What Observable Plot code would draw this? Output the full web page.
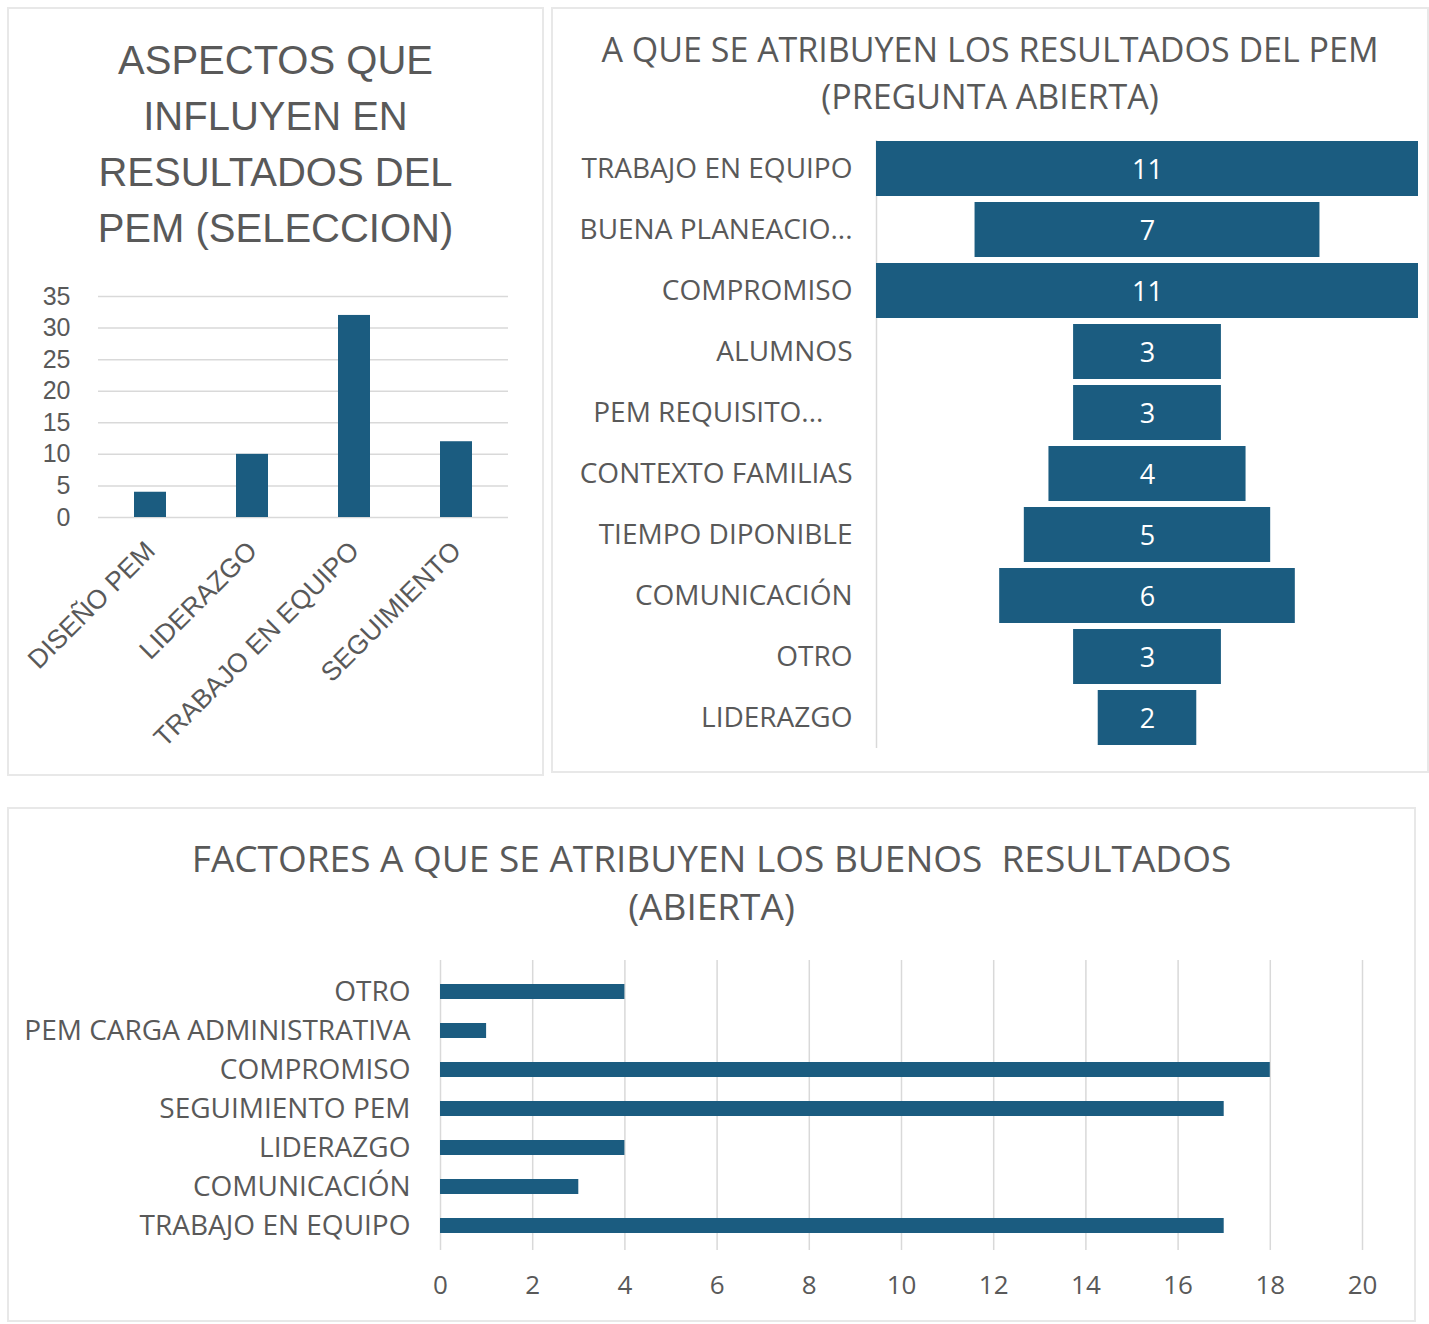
<!DOCTYPE html>
<html>
<head>
<meta charset="utf-8">
<script src="https://cdn.jsdelivr.net/npm/d3@7"></script>
<script src="https://cdn.jsdelivr.net/npm/@observablehq/plot@0.6"></script>
<style>
  body { margin: 0; background: #fff; }
  #root { position: relative; width: 1429px; height: 1324px; background: #fff; overflow: hidden; }
  .panel { position: absolute; border: 2px solid #e8e8e8; box-sizing: border-box; background: #fff; }
  .title { position: absolute; text-align: center; color: #595959; white-space: pre; }
  .chart { position: absolute; }
</style>
</head>
<body>
<div id="root">
  <div class="panel" style="left:7px;top:7px;width:537px;height:769px;"></div>
  <div class="panel" style="left:551px;top:7px;width:878px;height:766px;"></div>
  <div class="panel" style="left:7px;top:807px;width:1409px;height:515px;"></div>

  <div class="title" id="t1" style="left:8px;width:535px;top:32px;font-family:'Liberation Sans',Arial,sans-serif;font-size:40px;line-height:56px;"></div>
  <div class="title" id="t2" style="left:552px;width:876px;top:26px;font-family:'Open Sans',sans-serif;font-size:34px;line-height:47px;"></div>
  <div class="title" id="t3" style="left:8px;width:1407px;top:834px;font-family:'Open Sans',sans-serif;font-size:37px;line-height:48px;"></div>

  <div class="chart" id="c1" style="left:0px;top:270px;"></div>
  <div class="chart" id="c2" style="left:552px;top:130px;"></div>
  <div class="chart" id="c3" style="left:0px;top:950px;"></div>
</div>
<script>
// ---------- data ----------
const title1 = ["ASPECTOS QUE", "INFLUYEN EN", "RESULTADOS DEL", "PEM (SELECCION)"];
const aspectCategories = ["DISEÑO PEM", "LIDERAZGO", "TRABAJO EN EQUIPO", "SEGUIMIENTO"];
const aspectValues = [4, 10, 32, 12];
const aspectTicks = [0, 5, 10, 15, 20, 25, 30, 35];

const title2 = ["A QUE SE ATRIBUYEN LOS RESULTADOS DEL PEM", "(PREGUNTA ABIERTA)"];
const funnelCategories = ["TRABAJO EN EQUIPO", "BUENA PLANEACIO...", "COMPROMISO", "ALUMNOS", "PEM REQUISITO...\u00a0\u00a0\u00a0\u00a0", "CONTEXTO FAMILIAS", "TIEMPO DIPONIBLE", "COMUNICACIÓN", "OTRO", "LIDERAZGO"];
const funnelValues = [11, 7, 11, 3, 3, 4, 5, 6, 3, 2];

const title3 = ["FACTORES A QUE SE ATRIBUYEN LOS BUENOS  RESULTADOS", "(ABIERTA)"];
const factorCategories = ["OTRO", "PEM CARGA ADMINISTRATIVA", "COMPROMISO", "SEGUIMIENTO PEM", "LIDERAZGO", "COMUNICACIÓN", "TRABAJO EN EQUIPO"];
const factorValues = [4, 1, 18, 17, 4, 3, 17];
const factorTicks = [0, 2, 4, 6, 8, 10, 12, 14, 16, 18, 20];

// ---------- styles ----------
const barColor = "#1b5c80";
const textColor = "#595959";
const gridColor = "#d9d9d9";

document.getElementById("t1").textContent = title1.join("\n");
document.getElementById("t2").textContent = title2.join("\n");
document.getElementById("t3").textContent = title3.join("\n");

// ---------- chart 1 ----------
const aspects = aspectCategories.map((c, i) => ({cat: c, value: aspectValues[i]}));
const p1 = Plot.plot({
  width: 540, height: 500,
  marginLeft: 98, marginRight: 32, marginTop: 26, marginBottom: 253,
  style: {fontFamily: "'Liberation Sans', Arial, sans-serif", fontSize: "25px", color: textColor, background: "transparent"},
  x: {domain: aspectCategories, paddingInner: 0.69, paddingOuter: 0.345, label: null, tickSize: 0, tickPadding: 29, tickRotate: -45},
  y: {domain: [0, 35], ticks: aspectTicks, label: null, tickSize: 0, tickPadding: 28},
  marks: [
    Plot.gridY(aspectTicks, {stroke: gridColor, strokeOpacity: 1, strokeWidth: 1.5}),
    Plot.barY(aspects, {x: "cat", y: "value", fill: barColor})
  ]
});
p1.querySelectorAll("[aria-label='x-axis tick label'] text").forEach(t => t.style.fontSize = "26.5px");
document.getElementById("c1").appendChild(p1);

// ---------- chart 2 (funnel) ----------
const funnel = funnelCategories.map((c, i) => ({cat: c, value: funnelValues[i]}));
const p2 = Plot.plot({
  width: 876, height: 630,
  marginLeft: 324, marginRight: 10, marginTop: 10, marginBottom: 14,
  style: {fontFamily: "'Open Sans', sans-serif", fontSize: "28px", color: textColor, background: "transparent"},
  x: {domain: [-5.5, 5.5], axis: null},
  y: {domain: funnelCategories, paddingInner: 0.1, paddingOuter: 0, label: null, tickSize: 0, tickPadding: 24},
  marks: [
    Plot.ruleX([-5.5], {stroke: gridColor, strokeWidth: 1.5, insetBottom: -2}),
    Plot.barX(funnel, {y: "cat", x1: d => -d.value / 2, x2: d => d.value / 2, fill: barColor}),
    Plot.text(funnel, {y: "cat", x: 0, dy: 1, text: d => String(d.value), fill: "white", fontSize: 27})
  ]
});
document.getElementById("c2").appendChild(p2);

// ---------- chart 3 ----------
const factors = factorCategories.map((c, i) => ({cat: c, value: factorValues[i]}));
const p3 = Plot.plot({
  width: 1429, height: 360,
  marginLeft: 440, marginRight: 67, marginTop: 7, marginBottom: 50,
  style: {fontFamily: "'Open Sans', sans-serif", fontSize: "28px", color: textColor, background: "transparent"},
  x: {domain: [0, 20], ticks: factorTicks, label: null, tickSize: 0, tickPadding: 15},
  y: {domain: factorCategories, padding: 0.62, label: null, tickSize: 0, tickPadding: 30},
  marks: [
    Plot.ruleX(factorTicks, {stroke: gridColor, strokeWidth: 1.5, insetTop: 3, insetBottom: 10}),
    Plot.barX(factors, {y: "cat", x: "value", fill: barColor})
  ]
});
p3.querySelectorAll("[aria-label='x-axis tick label'] text").forEach(t => t.style.fontSize = "26px");
document.getElementById("c3").appendChild(p3);
</script>
</body>
</html>
